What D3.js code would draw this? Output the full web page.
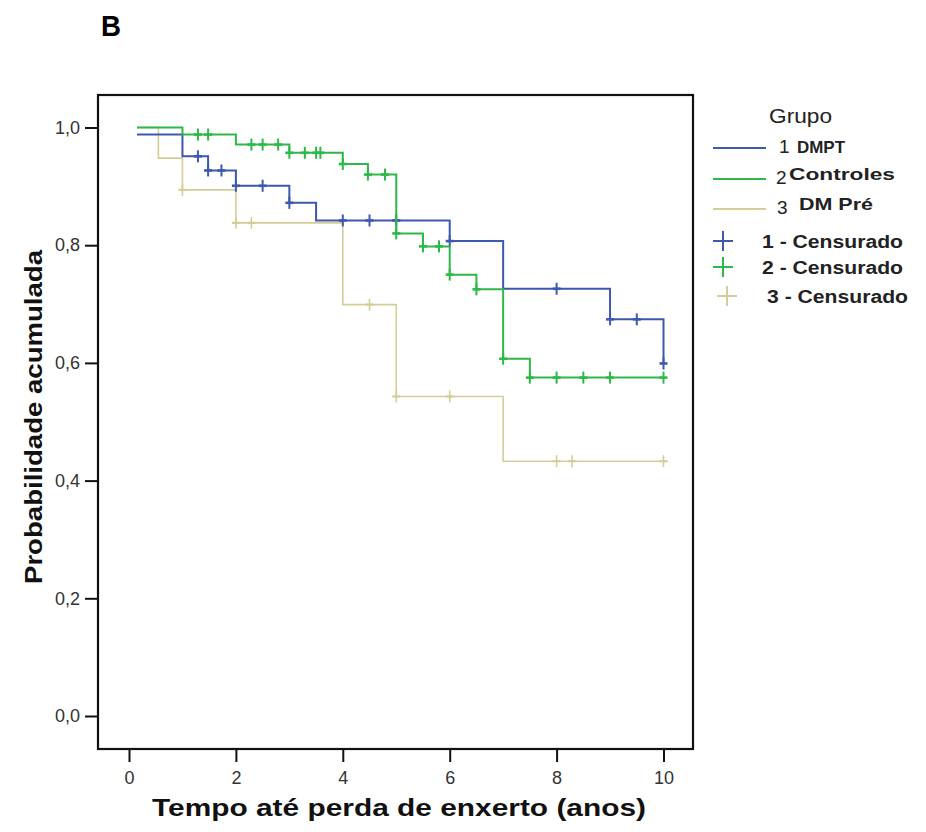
<!DOCTYPE html>
<html lang="pt">
<head>
	<meta charset="utf-8">
	<title>Kaplan-Meier B</title>
	<script src="https://d3js.org/d3.v7.min.js"></script>
	<style>
		body {margin:0; background:#fff;}
		text {font-family:"Liberation Sans", Arial, sans-serif;}
	</style>
</head>
<body>
	<div id="chart"></div>
	<script>
		// groups and colours (SPSS default palette)
		const groupIds = ["1", "2", "3"];
		const groupNames = ["DMPT", "Controles", "DM Pré"];
		const groupColors = ["#3e58ac", "#2eb848", "#d3ce97"];

		// step curves: [time, cumulative survival]
		const steps1 = [[0.15,0.988],[1.0,0.951],[1.48,0.927],[2.0,0.901],[3.0,0.872],[3.5,0.842],[6.0,0.807],[7.0,0.726],[9.0,0.674],[10.0,0.599]];
		const steps2 = [[0.15,1.0],[1.0,0.988],[2.0,0.971],[3.0,0.957],[4.0,0.938],[4.47,0.92],[5.0,0.82],[5.5,0.798],[6.0,0.75],[6.5,0.725],[7.0,0.607],[7.5,0.575],[10.0,0.575]];
		const steps3 = [[0.15,1.0],[0.55,0.948],[1.0,0.894],[2.0,0.838],[4.0,0.699],[5.0,0.543],[7.0,0.433],[10.0,0.433]];

		// censored observations
		const cens1 = [[1.29,0.951],[1.48,0.927],[1.73,0.927],[2.0,0.901],[2.5,0.901],[3.0,0.872],[4.0,0.842],[4.5,0.842],[5.0,0.842],[6.0,0.807],[8.0,0.726],[9.0,0.674],[9.5,0.674],[10.0,0.599]];
		const cens2 = [[1.29,0.988],[1.48,0.988],[2.29,0.971],[2.5,0.971],[2.79,0.971],[3.0,0.957],[3.29,0.957],[3.5,0.957],[3.58,0.957],[4.0,0.938],[4.47,0.92],[4.79,0.92],[5.0,0.82],[5.5,0.798],[5.8,0.798],[6.0,0.75],[6.5,0.725],[7.0,0.607],[7.5,0.575],[8.0,0.575],[8.5,0.575],[9.0,0.575],[10.0,0.575]];
		const cens3 = [[1.0,0.894],[2.0,0.838],[2.29,0.838],[4.5,0.699],[5.0,0.543],[6.0,0.543],[8.0,0.433],[8.29,0.433],[10.0,0.433]];

		const xTicks = [0, 2, 4, 6, 8, 10];
		const yTicks = [0, 0.2, 0.4, 0.6, 0.8, 1.0];

		const width = 926, height = 832;
		const frame = {left: 98, top: 95, right: 693, bottom: 749};

		var svg = d3.select("#chart")
			.append("svg")
			.attr("width", width)
			.attr("height", height);

		var x = d3.scaleLinear().domain([0, 10]).range([129, 663.5]);
		var y = d3.scaleLinear().domain([0, 1]).range([716, 127.5]);

		// panel letter
		svg.append("text")
			.attr("x", 101).attr("y", 36)
			.style("font-size", "30px").style("font-weight", "bold")
			.attr("textLength", 20).attr("lengthAdjust", "spacingAndGlyphs")
			.text("B");

		// axes
		var fmt = function (d) { return d3.format(".1f")(d).replace(".", ","); };
		var yAxis = svg.append("g")
			.attr("transform", "translate(" + frame.left + ",0)")
			.call(d3.axisLeft(y).tickValues(yTicks).tickSize(13).tickPadding(5).tickFormat(fmt));
		var xAxis = svg.append("g")
			.attr("transform", "translate(0," + frame.bottom + ")")
			.call(d3.axisBottom(x).tickValues(xTicks).tickSize(13).tickPadding(9).tickFormat(d3.format("d")));
		[xAxis, yAxis].forEach(function (a) {
			a.select(".domain").remove();
			a.selectAll(".tick line").attr("stroke", "#111").attr("stroke-width", 2);
			a.selectAll(".tick text").attr("fill", "#333").style("font-size", "18px").style("font-family", "Liberation Sans, Arial, sans-serif");
		});

		// frame
		svg.append("rect")
			.attr("x", frame.left).attr("y", frame.top)
			.attr("width", frame.right - frame.left).attr("height", frame.bottom - frame.top)
			.attr("fill", "none").attr("stroke", "#111").attr("stroke-width", 2.2);

		// curves
		var line = d3.line()
			.x(function (d) { return x(d[0]); })
			.y(function (d) { return y(d[1]); })
			.curve(d3.curveStepAfter);

		var curves = [steps3, steps1, steps2];
		var censors = [cens3, cens1, cens2];
		var order = [2, 0, 1];
		order.forEach(function (g, i) {
			var col = groupColors[g];
			var w = g == 2 ? 1.6 : 2;
			svg.append("path")
				.datum(curves[i])
				.attr("d", line)
				.attr("fill", "none")
				.attr("stroke", col)
				.attr("stroke-width", w);
			var c = svg.append("g").selectAll("g")
				.data(censors[i])
				.enter()
				.append("g")
				.attr("transform", function (d) { return "translate(" + x(d[0]) + "," + y(d[1]) + ")"; });
			c.append("line").attr("x1", 0).attr("x2", 0).attr("y1", -6).attr("y2", 6)
				.attr("stroke", col).attr("stroke-width", w);
			c.append("line").attr("x1", -4).attr("x2", 4).attr("y1", 0).attr("y2", 0)
				.attr("stroke", col).attr("stroke-width", w + 0.6);
		});

		// axis titles
		svg.append("text")
			.attr("x", 152).attr("y", 816)
			.style("font-size", "24px").style("font-weight", "bold").attr("fill", "#111")
			.attr("textLength", 494).attr("lengthAdjust", "spacingAndGlyphs")
			.text("Tempo até perda de enxerto (anos)");
		svg.append("text")
			.attr("transform", "translate(42,584) rotate(-90)")
			.style("font-size", "24px").style("font-weight", "bold").attr("fill", "#111")
			.attr("textLength", 334).attr("lengthAdjust", "spacingAndGlyphs")
			.text("Probabilidade acumulada");

		// legend
		var leg = svg.append("g");
		leg.append("text")
			.attr("x", 769).attr("y", 123)
			.style("font-size", "20px").attr("fill", "#222")
			.attr("textLength", 63).attr("lengthAdjust", "spacingAndGlyphs")
			.text("Grupo");
		var rowY = [148, 179, 209];
		var numX = [779, 776, 777];
		var nameX = [797, 789, 799];
		var nameDy = [5, 1, 1];
		var nameLen = [48, 106, 74];
		groupIds.forEach(function (id, i) {
			leg.append("line")
				.attr("x1", 713).attr("x2", 766).attr("y1", rowY[i]).attr("y2", rowY[i])
				.attr("stroke", groupColors[i]).attr("stroke-width", 2);
			leg.append("text")
				.attr("x", numX[i]).attr("y", rowY[i] + 5)
				.style("font-size", "19px").attr("fill", "#222")
				.text(id);
			leg.append("text")
				.attr("x", nameX[i]).attr("y", rowY[i] + nameDy[i])
				.style("font-size", "17px").style("font-weight", "bold").attr("fill", "#222")
				.attr("textLength", nameLen[i]).attr("lengthAdjust", "spacingAndGlyphs")
				.text(groupNames[i]);
		});
		var censY = [241, 267, 296];
		var censX = [723, 723, 727];
		var censTextX = [762, 762, 767];
		groupIds.forEach(function (id, i) {
			var g = leg.append("g").attr("transform", "translate(" + censX[i] + "," + censY[i] + ")");
			g.append("line").attr("x1", -10).attr("x2", 10).attr("y1", 0).attr("y2", 0)
				.attr("stroke", groupColors[i]).attr("stroke-width", 2);
			g.append("line").attr("x1", 0).attr("x2", 0).attr("y1", -10).attr("y2", 10)
				.attr("stroke", groupColors[i]).attr("stroke-width", 2);
			leg.append("text")
				.attr("x", censTextX[i]).attr("y", censY[i] + 7)
				.style("font-size", "18px").style("font-weight", "bold").attr("fill", "#222")
				.attr("textLength", 141).attr("lengthAdjust", "spacingAndGlyphs")
				.text(id + " - Censurado");
		});
	</script>
</body>
</html>
